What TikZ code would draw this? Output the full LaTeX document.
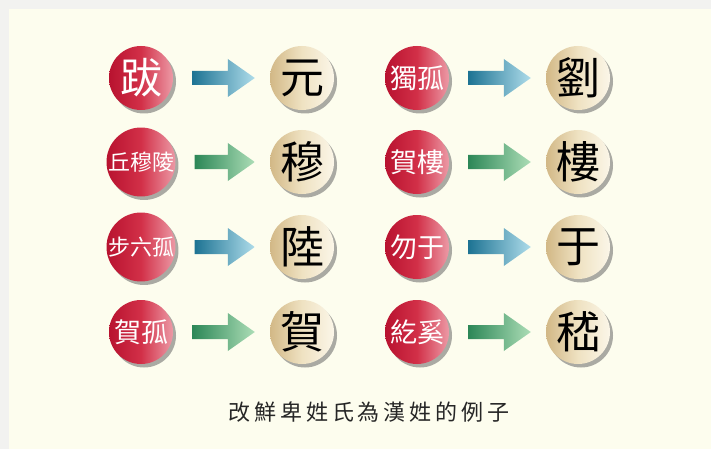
\documentclass[tikz,border=0pt]{standalone}
\usepackage{fontspec}
\newfontfamily\cjk{Noto Sans CJK TC}
\newfontfamily\capfont[LetterSpace=18]{Noto Sans CJK TC}
\usetikzlibrary{calc,shadows}

\definecolor{pagegray}{HTML}{F2F2F0}
\definecolor{paper}{HTML}{FDFDEE}
\definecolor{redL}{HTML}{B8122F}
\definecolor{redM}{HTML}{D23048}
\definecolor{redR}{HTML}{EC9AA6}
\definecolor{creamL}{HTML}{D2B886}
\definecolor{creamM}{HTML}{EFE2C2}
\definecolor{creamR}{HTML}{FBF6E8}
\definecolor{tealL}{HTML}{1D7393}
\definecolor{tealR}{HTML}{AEDCEA}
\definecolor{mintL}{HTML}{2C8757}
\definecolor{mintR}{HTML}{ACDDB6}

\tikzset{
  ball/.style={circle, minimum size=64pt, inner sep=0pt,
    drop shadow={shadow xshift=3pt, shadow yshift=-3.5pt, opacity=.5, fill=black!65}},
  redball/.style={ball, left color=redL, right color=redR, middle color=redM, text=white},
  creamball/.style={ball, left color=creamL, right color=creamR, middle color=creamM, text=black,
    font=\cjk\fontsize{44pt}{44pt}\selectfont},
  oneword/.style={font=\cjk\fontsize{42pt}{42pt}\selectfont},
  twoword/.style={font=\cjk\fontsize{27pt}{27pt}\selectfont},
  threeword/.style={font=\cjk\fontsize{22pt}{22pt}\selectfont},
  bluearrow/.style={left color=tealL, right color=tealR},
  greenarrow/.style={left color=mintL, right color=mintR},
}

% fat shaded arrow between two balls
\newcommand{\fatarrow}[3]{%
  \shade[#3] let \p1=($(#1.east)+(19,0)$), \p2=($(#2.west)+(-15,0)$) in
    (\x1,\y1+7pt) -- (\x2-27pt,\y1+7pt) -- (\x2-27pt,\y1+19pt) -- (\x2,\y1)
    -- (\x2-27pt,\y1-19pt) -- (\x2-27pt,\y1-7pt) -- (\x1,\y1-7pt) -- cycle;}

\begin{document}
\begin{tikzpicture}[x=1pt,y=-1pt]
  \useasboundingbox (0,0) rectangle (711,449);
  \fill[pagegray] (0,0) rectangle (711,449);
  \fill[paper] (9,9) rectangle (711,449);

  % left half
  \node[redball,oneword] (ba) at (141,78) {跋};
  \node[creamball] (yuan) at (302,78) {元};
  \node[redball,threeword] (qiu) at (141,162) {丘穆陵};
  \node[creamball] (mu) at (302,162) {穆};
  \node[redball,threeword] (bu) at (141,247) {步六孤};
  \node[creamball] (lu) at (302,247) {陸};
  \node[redball,twoword] (hegu) at (141,332) {賀孤};
  \node[creamball] (he) at (302,332) {賀};

  % right half
  \node[redball,twoword] (dugu) at (417,78) {獨孤};
  \node[creamball] (liu) at (578,78) {劉};
  \node[redball,twoword] (helou) at (417,162) {賀樓};
  \node[creamball] (lou) at (578,162) {樓};
  \node[redball,twoword] (wuyu) at (417,247) {勿于};
  \node[creamball] (yu) at (578,247) {于};
  \node[redball,twoword] (hexi) at (417,332) {紇奚};
  \node[creamball] (ji) at (578,332) {嵇};

  \fatarrow{ba}{yuan}{bluearrow}
  \fatarrow{qiu}{mu}{greenarrow}
  \fatarrow{bu}{lu}{bluearrow}
  \fatarrow{hegu}{he}{greenarrow}
  \fatarrow{dugu}{liu}{bluearrow}
  \fatarrow{helou}{lou}{greenarrow}
  \fatarrow{wuyu}{yu}{bluearrow}
  \fatarrow{hexi}{ji}{greenarrow}

  \node[font=\capfont\fontsize{22pt}{22pt}\selectfont, text=black!85] (caption) at (369,412) {改鮮卑姓氏為漢姓的例子};
\end{tikzpicture}
\end{document}
